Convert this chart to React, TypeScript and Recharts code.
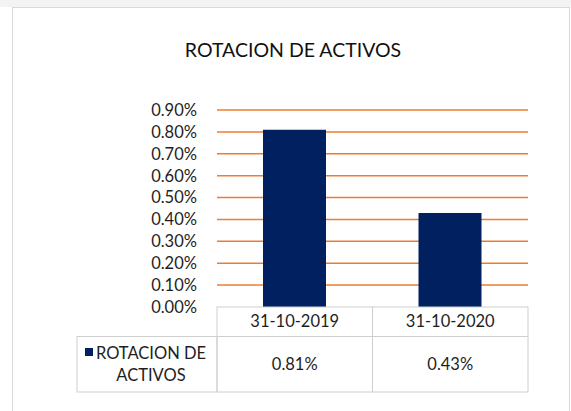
import { BarChart, Bar, XAxis, YAxis, CartesianGrid } from "recharts";

const categories = ["31-10-2019", "31-10-2020"];
const rotacion = [0.81, 0.43];
const yTicks = [0, 0.1, 0.2, 0.3, 0.4, 0.5, 0.6, 0.7, 0.8, 0.9];
const gridValues = [0.1, 0.2, 0.3, 0.4, 0.5, 0.6, 0.7, 0.8, 0.9];
const seriesLines = ["ROTACION DE", "ACTIVOS"];
const title = "ROTACION DE ACTIVOS";

const data = categories.map((c, i) => ({ fecha: c, valor: rotacion[i] }));

const FONT = "Lato, 'Liberation Sans', sans-serif";
const TXT = "#1e1e1e";
const BORDER = "#cfcfcf";
const NAVY = "#002060";
const ORANGE = "#ED7D31";

const fmt = (v: number) => v.toFixed(2) + "%";

// each x tick draws its own column of the data table; the first also draws the legend key cell
const TableTick = (props: any) => {
  const { x, y, payload, index } = props;
  const half = payload?.offset ?? 77.75;
  const v = rotacion[index];
  const left = x - half;
  return (
    <g>
      {index === 0 && (
        <g>
          <rect x={left - 140} y={y + 29.5} width={140} height={55.5} fill="none" stroke={BORDER} />
          <rect x={left - 132} y={y + 41} width={8} height={8} fill={NAVY} />
          <text x={left - 66} y={y + 52} textAnchor="middle" fill={TXT} fontSize={16.5} fontFamily={FONT}>
            {seriesLines[0]}
          </text>
          <text x={left - 66} y={y + 73.5} textAnchor="middle" fill={TXT} fontSize={16.5} fontFamily={FONT}>
            {seriesLines[1]}
          </text>
        </g>
      )}
      <rect x={left} y={y} width={half * 2} height={29.5} fill="none" stroke={BORDER} />
      <rect x={left} y={y + 29.5} width={half * 2} height={55.5} fill="none" stroke={BORDER} />
      <text x={x} y={y + 19.5} textAnchor="middle" fill={TXT} fontSize={16.5} fontFamily={FONT}>
        {payload.value}
      </text>
      <text x={x} y={y + 63} textAnchor="middle" fill={TXT} fontSize={16.5} fontFamily={FONT}>
        {fmt(v)}
      </text>
    </g>
  );
};

export default function App() {
  return (
    <div style={{ position: "absolute", left: 0, top: 0, width: 571, height: 411, background: "#fff", overflow: "hidden" }}>
      <div style={{ position: "absolute", left: 0, top: 0, width: 571, height: 7, background: "#f3f3f3" }} />
      <div
        style={{
          position: "absolute",
          left: 12,
          top: 7,
          width: 558,
          height: 420,
          border: "1px solid #d9d9d9",
          boxSizing: "border-box",
        }}
      />
      <div
        style={{
          position: "absolute",
          left: 0,
          top: 38,
          width: 586,
          textAlign: "center",
          fontFamily: FONT,
          fontSize: 19.5,
          color: "#111",
          lineHeight: "24px",
        }}
      >
        {title}
      </div>
      <div style={{ position: "absolute", left: 0, top: 0 }}>
        <BarChart width={571} height={411} data={data} margin={{ top: 110, right: 43, left: 0, bottom: 0 }} barSize={63}>
          <CartesianGrid horizontal vertical={false} horizontalValues={gridValues} stroke={ORANGE} strokeWidth={1.5} />
          <YAxis
            type="number"
            domain={[0, 0.9]}
            ticks={yTicks}
            interval={0}
            width={217}
            axisLine={false}
            tickLine={false}
            tickSize={0}
            tickMargin={20}
            tickFormatter={fmt}
            tick={{ fill: TXT, fontSize: 16.5, fontFamily: FONT }}
          />
          <XAxis
            dataKey="fecha"
            height={104}
            axisLine={false}
            tickLine={false}
            tickSize={0}
            tickMargin={0}
            interval={0}
            tick={<TableTick />}
          />
          <Bar dataKey="valor" name="ROTACION DE ACTIVOS" fill={NAVY} isAnimationActive={false} />
        </BarChart>
      </div>
    </div>
  );
}
